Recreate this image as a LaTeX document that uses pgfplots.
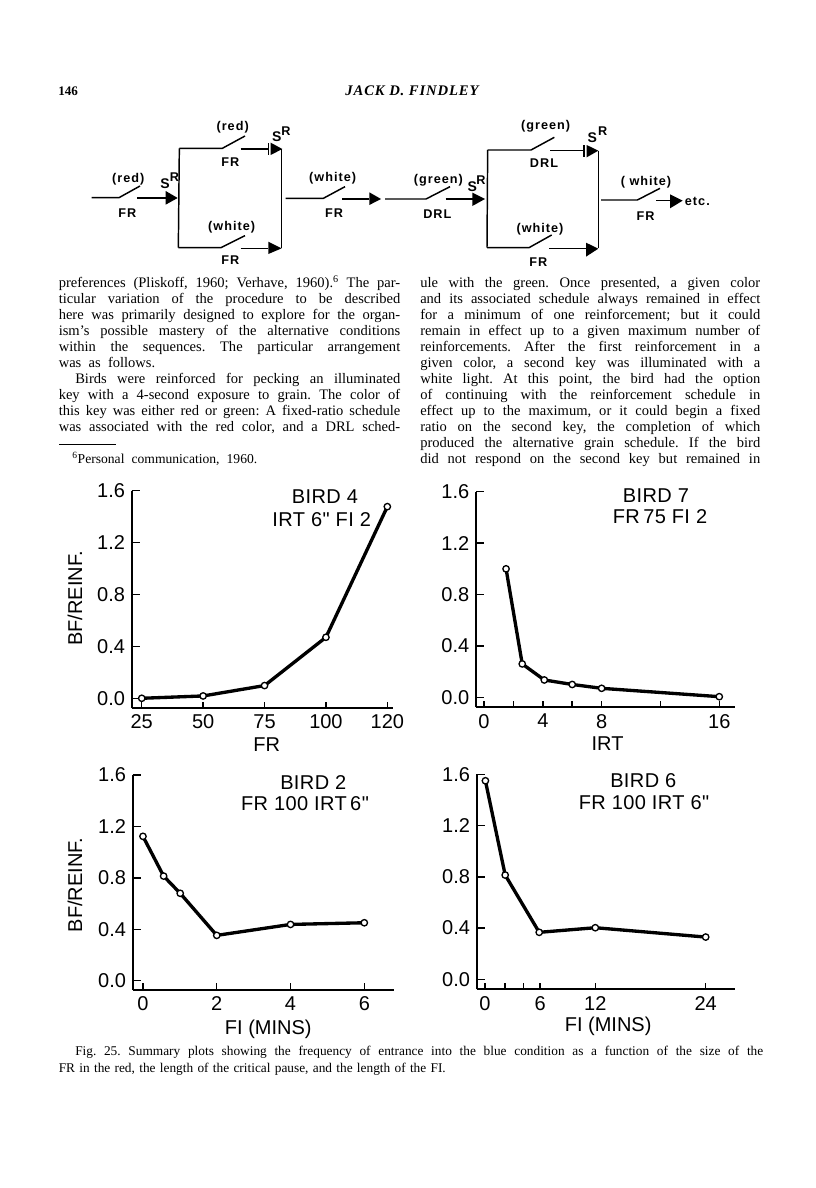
\documentclass[border=0pt]{standalone}
\usepackage{fontspec}
\usepackage{pgfplots}
\pgfplotsset{compat=1.18}
\setmainfont{Liberation Serif}
\newfontfamily\lab{Liberation Sans}
\newcommand{\fs}[1]{\fontsize{#1}{#1}\selectfont}
\newdimen\px \px=0.75pt
% one set line of text: x, baseline y, width (pixels), text
\newcommand{\tl}[4]{\node[anchor=base west,inner sep=0pt] at (#1,#2) {\frenchspacing\makebox[#3\px][s]{#4}};}
\newcommand{\lbl}[3]{\node[font=\lab\fs{15},inner sep=0pt] at (#1,#2) {\addfontfeature{LetterSpace=2}#3};}
% diagram text, coordinates in the 3x units of the diagram scopes
\newcommand{\dg}[3]{\node[font=\lab\bfseries\fs{9.5},inner sep=0pt] at (#1,#2) {\addfontfeature{LetterSpace=8}#3};}
\newcommand{\sr}[4]{\node[font=\lab\bfseries\fs{10.5},inner sep=0pt] at (#1,#2) {S};\node[font=\lab\bfseries\fs{9.5},inner sep=0pt] at (#3,#4) {R};}
\newcommand{\head}[6]{\fill (#1,#2) -- (#3,#4) -- (#5,#6) -- cycle;}

\pgfplotsset{
  panel/.style={
    scale only axis, axis lines=left, axis line style={-, line width=1.5pt},
    enlargelimits=false, clip=false,
    tick align=inside, major tick length=6pt,
    xtick style={black, line width=1.1pt, /pgfplots/major tick length=5pt},
    ytick style={black, line width=1.1pt},
    ymax=1.6, ytick={0,0.4,0.8,1.2,1.6},
    tick label style={font=\lab\fs{15}},
    label style={font=\lab\fs{15}},
    /pgf/number format/assume math mode=true,
    xticklabel style={yshift=-1.5pt},
    yticklabel style={xshift=-1.5pt, /pgf/number format/fixed, /pgf/number format/fixed zerofill, /pgf/number format/precision=1},
  },
  series/.style={black, line width=2.5pt, mark=*, mark size=2.4pt,
    mark options={fill=white, draw=black, line width=1pt}},
}

\begin{document}
\begin{tikzpicture}
\path[use as bounding box, fill=white] (0pt,0pt) rectangle (612pt,-891pt);

% upper left
\begin{axis}[panel, at={(98.8pt,-531.2pt)}, anchor=south west, width=195.75pt, height=163.2pt,
  xmin=-0.163, xmax=4.088, ymin=-0.077,
  xtick={0,1,2,3,4}, xticklabels={25,50,75,100,120},
  xlabel={FR}, ylabel={BF/REINF.},
  x label style={at={(axis description cs:0.517,-0.169)}, anchor=center},
  y label style={at={(axis description cs:-0.217,0.505)}, anchor=center}]
\addplot[series] coordinates {(0,0.0) (1,0.018) (2,0.098) (3,0.47) (4,1.477)};
\end{axis}

% upper right
\begin{axis}[panel, at={(357pt,-530.5pt)}, anchor=south west, width=194.25pt, height=161.7pt,
  xmin=-0.544, xmax=17.07, ymin=-0.078,
  xtick={0,2,4,6,8,12,16}, xticklabels={0,,4,,8,,16},
  xlabel={IRT},
  x label style={at={(axis description cs:0.508,-0.167)}, anchor=center}]
\addplot[series] coordinates {(1.5,1.0) (2.6,0.26) (4.1,0.135) (6,0.10) (8,0.07) (16,0.005)};
\end{axis}

% lower left
\begin{axis}[panel, at={(99.5pt,-742.5pt)}, anchor=south west, width=196pt, height=161.25pt,
  xmin=-0.279, xmax=6.805, ymin=-0.072,
  xtick={0,2,4,6},
  xlabel={FI (MINS)}, ylabel={BF/REINF.},
  x label style={at={(axis description cs:0.519,-0.183)}, anchor=center},
  y label style={at={(axis description cs:-0.221,0.488)}, anchor=center}]
\addplot[series] coordinates {(0,1.123) (0.56,0.814) (1.01,0.68) (2,0.353) (4,0.438) (6,0.451)};
\end{axis}

% lower right
\begin{axis}[panel, at={(357.5pt,-742pt)}, anchor=south west, width=193.7pt, height=161.25pt,
  xmin=-0.90, xmax=27.18, ymin=-0.078,
  xtick={0,2.2,4.2,6,12,24}, xticklabels={0,,,6,12,24},
  xlabel={FI (MINS)},
  x label style={at={(axis description cs:0.509,-0.174)}, anchor=center}]
\addplot[series] coordinates {(0.05,1.55) (2.2,0.814) (5.9,0.367) (12,0.403) (24,0.33)};
\end{axis}

\begin{scope}[x=0.75pt,y=-0.75pt]
% panel captions
\lbl{325}{497}{BIRD\ 4}
\lbl{321.7}{519.3}{IRT\ 6" FI\ 2}
\lbl{656}{496}{BIRD\ 7}
\lbl{660}{516.7}{FR\,75\ FI\ 2}
\lbl{313.3}{782.7}{BIRD\ 2}
\lbl{305}{803.3}{FR 100 IRT\,6"}
\lbl{643.3}{780.7}{BIRD\ 6}
\lbl{644}{802.7}{FR 100 IRT 6"}

% running head
\node[anchor=base west,inner sep=0pt,font=\bfseries\fs{9.8}] at (58,95) {146};
\node[anchor=base,inner sep=0pt,font=\bfseries\itshape\fs{11}] at (412,95) {\addfontfeature{LetterSpace=6}JACK D. FINDLEY};

% text columns
\begingroup\fs{10.9}
\tl{58.5}{287.3}{341.5}{preferences (Pliskoff, 1960; Verhave, 1960).\textsuperscript{6} The par-}
\tl{58.5}{303.3}{341.5}{ticular variation of the procedure to be described}
\tl{58.5}{319.3}{341.5}{here was primarily designed to explore for the organ-}
\tl{58.5}{335.3}{341.5}{ism's possible mastery of the alternative conditions}
\tl{58.5}{351.3}{341.5}{within the sequences. The particular arrangement}
\tl{58.5}{367.3}{96.5}{was as follows.}
\tl{75}{383.3}{325}{Birds were reinforced for pecking an illuminated}
\tl{58.5}{399.3}{341.5}{key with a 4-second exposure to grain. The color of}
\tl{58.5}{415.3}{341.5}{this key was either red or green: A fixed-ratio schedule}
\tl{58.5}{431.3}{341.5}{was associated with the red color, and a DRL sched-}
\tl{420}{287.3}{340}{ule with the green. Once presented, a given color}
\tl{420}{303.3}{340}{and its associated schedule always remained in effect}
\tl{420}{319.3}{340}{for a minimum of one reinforcement; but it could}
\tl{420}{335.3}{340}{remain in effect up to a given maximum number of}
\tl{420}{351.3}{340}{reinforcements. After the first reinforcement in a}
\tl{420}{367.3}{340}{given color, a second key was illuminated with a}
\tl{420}{383.3}{340}{white light. At this point, the bird had the option}
\tl{420}{399.3}{340}{of continuing with the reinforcement schedule in}
\tl{420}{415.3}{340}{effect up to the maximum, or it could begin a fixed}
\tl{420}{431.3}{340}{ratio on the second key, the completion of which}
\tl{420}{447.3}{340}{produced the alternative grain schedule. If the bird}
\tl{420}{463.3}{340}{did not respond on the second key but remained in}
\endgroup
\draw[line width=0.6pt] (59,444.7) -- (116,444.7);
\begingroup\fs{10.2}
\tl{72}{463.3}{185}{\textsuperscript{6}Personal communication, 1960.}
\endgroup
\begingroup\fs{10}
\tl{75}{1055}{688}{Fig. 25. Summary plots showing the frequency of entrance into the blue condition as a function of the size of the}
\tl{58.5}{1072}{387}{FR in the red, the length of the critical pause, and the length of the FI.}
\endgroup
\end{scope}

% schedule diagram, left part
\begin{scope}[shift={(37.5pt,-52.5pt)},x=0.25pt,y=-0.25pt,line width=1.1pt,line join=miter]
\draw (125,383) -- (207,383) -- (270,348);
\draw (262,384) -- (350,384);
\head{347}{363}{383}{384}{347}{404}
\dg{235}{328}{(red)}
\dg{232}{428}{FR}
\sr{345}{340}{373}{320}
\draw (388,235) -- (385,533);
\draw (388,235) -- (517,235) -- (585,198);
\draw (572,237) -- (655,237);
\draw (655,220) -- (655,255);
\head{662}{218}{697}{237}{662}{255}
\draw (695,237) -- (695,535);
\draw (385,533) -- (513,533) -- (585,497);
\draw (572,535) -- (655,535);
\head{655}{515}{695}{535}{655}{552}
\dg{548}{172}{(red)}
\dg{541}{275}{FR}
\sr{680}{200}{708}{182}
\dg{545}{473}{(white)}
\dg{541}{570}{FR}
\draw (707,385) -- (820,385) -- (885,350);
\draw (877,387) -- (958,387);
\head{958}{367}{993}{387}{958}{405}
\dg{848}{326}{(white)}
\dg{852}{430}{FR}
\end{scope}

% schedule diagram, right part
\begin{scope}[shift={(285pt,-75pt)},x=0.25pt,y=-0.25pt,line width=1.1pt,line join=miter]
\draw (15,297) -- (138,297) -- (210,260);
\draw (197,297) -- (280,297);
\head{277}{278}{315}{297}{277}{318}
\dg{175}{240}{(green)}
\dg{172}{342}{DRL}
\sr{277}{260}{303}{240}
\draw (323,150) -- (321,443);
\draw (323,150) -- (453,150) -- (523,112);
\draw (510,152) -- (612,152);
\draw (612,135) -- (612,170);
\head{620}{135}{655}{152}{620}{172}
\draw (655,152) -- (655,445);
\draw (321,443) -- (447,443) -- (515,405);
\draw (508,446) -- (618,446);
\head{618}{428}{655}{446}{618}{470}
\dg{497}{78}{(green)}
\dg{492}{188}{DRL}
\sr{637}{112}{668}{92}
\dg{480}{388}{(white)}
\dg{475}{485}{FR}
\draw (663,300) -- (772,300) -- (840,265);
\draw (828,302) -- (870,302);
\head{870}{283}{908}{302}{870}{325}
\dg{952}{303}{etc.}
\dg{798}{247}{( white)}
\dg{797}{348}{FR}
\end{scope}
\end{tikzpicture}
\end{document}
